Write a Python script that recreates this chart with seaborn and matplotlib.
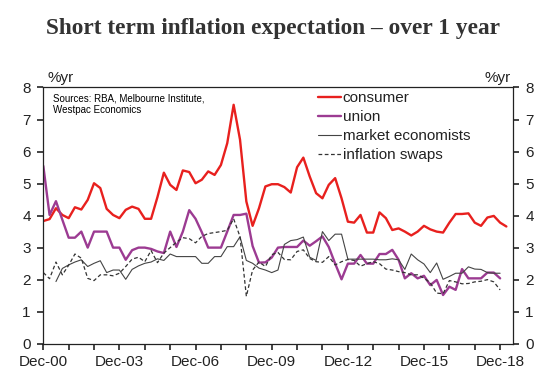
import pandas as pd
import matplotlib
matplotlib.use("Agg")
import matplotlib.pyplot as plt
import matplotlib.dates as mdates
from matplotlib.ticker import FuncFormatter
import seaborn as sns

# Quarterly readings, first point Dec-00
start = "2000-12-01"

consumer = [3.83, 3.89, 4.23, 4.02, 3.92, 4.26, 4.19, 4.49, 5.01, 4.86,
            4.21, 4.02, 3.92, 4.18, 4.28, 4.21, 3.90, 3.90, 4.58, 5.34,
            4.96, 4.80, 5.41, 5.36, 5.01, 5.12, 5.38, 5.27, 5.58, 6.26,
            7.46, 6.37, 4.44, 3.68, 4.23, 4.91, 4.98, 4.98, 4.89, 4.72,
            5.51, 5.81, 5.22, 4.70, 4.54, 4.96, 5.17, 4.54, 3.81, 3.78,
            4.02, 3.47, 3.47, 4.10, 3.92, 3.55, 3.60, 3.50, 3.38, 3.50,
            3.68, 3.57, 3.50, 3.47, 3.78, 4.05, 4.05, 4.07, 3.78, 3.68,
            3.94, 3.99, 3.78, 3.66]

union = [5.55, 4.02, 4.45, 3.87, 3.31, 3.31, 3.50, 3.00, 3.50, 3.50,
         3.50, 3.00, 3.00, 2.62, 2.92, 3.00, 3.00, 2.96, 2.88, 2.83,
         3.50, 3.02, 3.50, 4.17, 3.90, 3.48, 3.00, 3.00, 3.00, 3.50,
         4.02, 4.02, 4.06, 3.05, 2.53, 2.54, 2.69, 3.00, 3.02, 3.02,
         3.02, 3.22, 3.06, 3.20, 3.35, 3.02, 2.50, 2.01, 2.50, 2.50,
         2.77, 2.50, 2.50, 2.80, 2.80, 2.93, 2.62, 2.04, 2.20, 2.04,
         2.12, 1.83, 1.99, 1.52, 1.78, 1.68, 2.33, 2.04, 2.04, 2.04,
         2.22, 2.22, 2.04]

# market economists series begins two quarters later (Jun-01)
market_offset = 2
market_economists = [1.94, 2.35, 2.46, 2.55, 2.62, 2.41, 2.51, 2.59, 2.22, 2.30,
                     2.30, 2.01, 2.32, 2.43, 2.51, 2.55, 2.65, 2.60, 2.80, 2.72,
                     2.72, 2.72, 2.72, 2.51, 2.51, 2.72, 2.72, 3.03, 3.03, 3.34,
                     2.60, 2.51, 2.36, 2.30, 2.22, 2.30, 3.10, 3.22, 3.25, 3.33,
                     2.70, 2.60, 3.50, 3.22, 3.42, 3.42, 2.64, 2.64, 2.64, 2.64,
                     2.64, 2.62, 2.62, 2.65, 2.62, 2.32, 2.80, 2.62, 2.49, 2.22,
                     2.52, 2.01, 2.10, 2.20, 2.20, 2.40, 2.33, 2.32, 2.22, 2.20,
                     2.20]

inflation_swaps = [2.22, 2.03, 2.55, 2.15, 2.45, 2.80, 2.67, 2.04, 1.97, 2.15,
                   2.15, 2.12, 2.20, 2.41, 2.64, 2.70, 2.56, 2.91, 2.53, 2.83,
                   3.00, 3.17, 3.31, 3.28, 3.15, 3.35, 3.44, 3.47, 3.50, 3.54,
                   3.90, 3.34, 1.48, 2.30, 2.55, 2.41, 2.78, 2.85, 2.63, 2.62,
                   2.88, 2.93, 2.66, 2.56, 2.54, 2.72, 2.46, 2.56, 2.63, 2.60,
                   2.42, 2.50, 2.56, 2.50, 2.33, 2.30, 2.25, 2.22, 2.15, 2.15,
                   2.05, 1.90, 1.58, 1.56, 1.97, 1.93, 1.87, 1.88, 1.93, 1.95,
                   2.00, 1.93, 1.68]

y_ticks = [0, 1, 2, 3, 4, 5, 6, 7, 8]
title = "Short term inflation expectation \u2013 over 1 year"
source_note = "Sources: RBA, Melbourne Institute,\nWestpac Economics"


def quarters(n, offset=0):
    return pd.date_range(start, periods=n + offset, freq="3MS")[offset:]


sns.set_style("ticks")
plt.rcParams["font.family"] = ["Liberation Sans", "DejaVu Sans"]
text_col = "#222222"

fig = plt.figure(figsize=(5.51, 3.88), dpi=100)
ax = fig.add_axes([0.0786, 0.1142, 0.852, 0.6603])

series = [
    ("consumer", consumer, 0, "#e8201e", 1.7, "-"),
    ("union", union, 0, "#9c3b92", 1.7, "-"),
    ("market economists", market_economists, market_offset, "#444444", 0.8, "-"),
    ("inflation swaps", inflation_swaps, 0, "#333333", 0.9, (0, (3, 2))),
]
for name, vals, off, col, lw, ls in series:
    sns.lineplot(x=quarters(len(vals), off), y=vals, ax=ax, color=col,
                 linewidth=lw, linestyle=ls, label=name)

ax.set_ylim(0, 8)
ax.set_yticks(y_ticks)
ax.set_xlim(pd.Timestamp("2000-12-01"), pd.Timestamp("2019-06-01"))
ax.xaxis.set_major_locator(mdates.YearLocator(base=1, month=12, day=1))


def fmt_date(x, pos):
    d = mdates.num2date(x)
    return d.strftime("Dec-%y") if (d.year - 2000) % 3 == 0 else ""


ax.xaxis.set_major_formatter(FuncFormatter(fmt_date))
ax.tick_params(axis="both", which="major", direction="out", length=4,
               width=1.1, color="#111111", labelsize=11, labelcolor=text_col)
ax.tick_params(axis="y", left=True, right=True, labelleft=True,
               labelright=True, pad=5)
ax.tick_params(axis="x", bottom=True, pad=4)
ax.set_xlabel("")
ax.set_ylabel("")
for side in ["left", "right", "top", "bottom"]:
    ax.spines[side].set_visible(True)
    ax.spines[side].set_linewidth(0.9)
    ax.spines[side].set_color("#222222")

ax.text(0.008, 1.01, "%yr", transform=ax.transAxes, ha="left", va="bottom",
        fontsize=11, color=text_col)
ax.text(0.995, 1.01, "%yr", transform=ax.transAxes, ha="right", va="bottom",
        fontsize=11, color=text_col)
ax.text(0.021, 0.975, source_note, transform=ax.transAxes, ha="left", va="top",
        fontsize=7, color="black", linespacing=1.15)

ax.legend(loc="upper left", bbox_to_anchor=(0.585, 0.985), frameon=False,
          fontsize=11, handlelength=1.5, handletextpad=0.12, labelspacing=0.33,
          borderpad=0, borderaxespad=0, labelcolor=text_col)

fig.text(0.495, 0.926, title, ha="center", va="center", fontsize=16.8,
         fontweight="bold", family=["Liberation Serif", "DejaVu Serif"],
         color="#333333")

fig.savefig("out.png", dpi=100)
